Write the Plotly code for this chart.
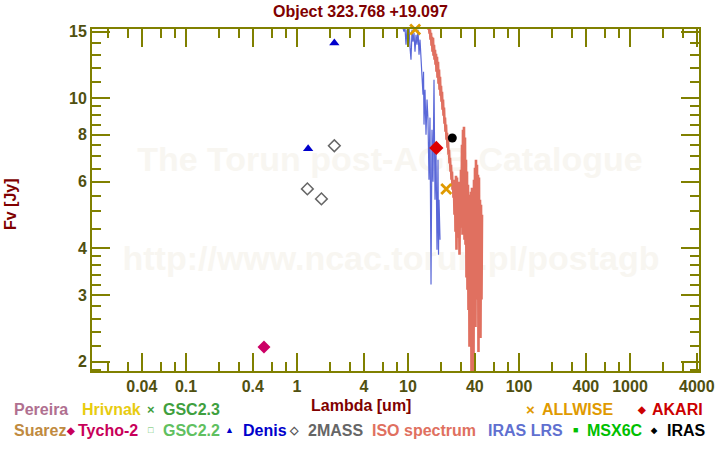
import plotly.graph_objects as go

# ---------------- data ----------------
tycho_wl = [0.504]
tycho_f = [2.185]
denis_wl = [1.26, 2.17]
denis_f = [7.34, 13.99]
mass_wl = [1.24, 1.66, 2.17]
mass_f = [5.74, 5.40, 7.47]
allwise_wl = [11.6, 22.1]
allwise_f = [15.2, 5.74]
akari_wl = [18.0]
akari_f = [7.37]
iras_wl = [25.06]
iras_f = [7.83]

lrs_wl = [8.13, 8.83, 9.20, 9.40, 9.59, 9.79, 10.0, 10.21, 10.43, 10.64,
          10.87, 11.09, 11.33, 11.56, 11.81, 12.05, 12.31, 12.57, 12.83, 13.10,
          13.37, 13.65, 13.80, 13.94, 14.23, 14.53, 14.84, 15.14, 15.46, 15.78,
          16.12, 16.45, 16.80, 17.15, 17.51, 17.88, 18.25, 18.64, 18.83, 19.03,
          19.43]
lrs_f = [16.13, 15.65, 14.99, 15.36, 13.85, 15.18, 14.45, 15.55, 13.60, 12.64,
         15.18, 14.10, 14.90, 13.27, 14.72, 13.85, 15.18, 13.03, 14.28, 12.48,
         12.03, 10.20, 11.74, 8.50, 10.52, 7.99, 9.90, 8.76, 6.07, 8.87,
         3.20, 8.24, 6.00, 11.18, 5.37, 7.29, 3.96, 6.86, 3.84, 5.37,
         4.21]

iso_wl = [12.5, 13.2, 13.9, 14.5,
          15.14, 15.30, 15.46, 15.62, 15.78, 15.94, 16.12, 16.29, 16.45, 16.62,
          16.80, 16.97, 17.15, 17.33, 17.51, 17.69, 17.88, 18.06, 18.25, 18.44,
          18.64, 18.83, 19.03, 19.23, 19.43, 19.63, 19.83, 20.04, 20.25, 20.46,
          20.67, 20.89, 21.10, 21.32, 21.54, 21.77, 22.00, 22.23, 22.46, 22.69,
          22.93, 23.17, 23.41, 23.65, 23.90, 24.15, 24.40, 24.65, 24.91, 25.17,
          25.43, 25.69, 25.96, 26.23, 26.51, 26.78, 27.06, 27.34, 27.63, 27.92,
          28.21, 28.50, 28.80, 29.10, 29.40, 29.71, 30.02, 30.33, 30.65, 30.97,
          31.29, 31.62, 31.94, 32.27, 32.61, 32.95, 33.29, 33.64, 33.99, 34.34,
          34.70, 35.06, 35.43, 35.80, 36.18, 36.56, 36.94, 37.32, 37.71, 38.10,
          38.50, 38.90, 39.31, 39.72, 40.13, 40.55, 40.97, 41.40, 41.83, 42.27,
          42.71, 43.15, 43.60, 44.05, 44.52, 44.98, 45.47, 45.94, 46.42]
iso_f = [19.0, 18.0, 17.4, 16.9,
         15.94, 15.18, 15.55, 14.81, 15.18, 14.28, 14.90, 13.76, 14.54, 13.27,
         14.45, 12.95, 13.85, 12.64, 13.43, 12.26, 13.11, 11.74, 12.87, 11.32,
         12.48, 10.91, 11.89, 10.52, 11.39, 10.14, 10.78, 9.78, 10.39, 9.31,
         9.90, 8.98, 9.43, 8.55, 8.87, 8.14, 8.50, 7.75, 8.09, 7.38,
         7.75, 7.07, 7.29, 6.70, 6.94, 6.38, 6.65, 6.07, 6.38, 5.71,
         6.07, 5.44, 5.78, 4.90, 6.07, 4.42, 6.22, 3.96, 6.15, 4.26,
         6.00, 4.34, 5.93, 3.84, 6.00, 4.53, 6.45, 4.61, 7.52, 4.34,
         8.24, 4.90, 8.39, 4.21, 7.85, 4.08, 6.86, 3.34, 6.38, 3.10,
         5.89, 2.74, 5.54, 2.19, 5.44, 2.74, 5.64, 1.75, 5.78, 2.43,
         5.71, 1.75, 6.07, 2.58, 6.53, 2.47, 6.86, 3.24, 6.65, 2.92,
         6.26, 2.12, 6.15, 2.74, 5.37, 2.31, 5.21, 2.92, 4.90]

x_major = [0.04, 0.1, 0.4, 1, 4, 10, 40, 100, 400, 1000, 4000]
x_labels = ["0.04", "0.1", "0.4", "1", "4", "10", "40", "100", "400", "1000", "4000"]
x_minor = [0.02, 0.03, 0.06, 0.08, 0.2, 0.3, 0.6, 0.8, 2, 3, 6, 8, 20, 30, 60, 80,
           200, 300, 600, 800, 2000, 3000]
y_major = [2, 3, 4, 6, 8, 10, 15]
y_labels = ["2", "3", "4", "6", "8", "10", "15"]
y_minor = [1.9, 2.2, 2.4, 2.6, 2.8, 3.2, 3.4, 3.6, 3.8, 4.5, 5, 5.5, 6.5, 7, 7.5,
           8.5, 9, 9.5, 11, 12, 13, 14]

# ---------------- style ----------------
FONT = "Liberation Sans, Arial, sans-serif"
OLIVE = "#808000"
TICKTXT = "#505010"
DARKRED = "#800000"
L, R, T, B = 92, 699, 29, 371
W, H = 720, 450
XR = [-1.8468, 3.6216]
YR = [0.2759, 1.1830]


def px(x):
    return (x - L) / (R - L)


def py(y):
    return (B - y) / (B - T)


fig = go.Figure()

# watermark (below data)
fig.add_trace(go.Scatter(
    x=[6.88, 7.03], y=[6.74, 3.68], mode="text",
    text=["The Torun post-AGB Catalogue", "http://www.ncac.torun.pl/postagb"],
    textfont=dict(family=FONT, size=34, color="#f8f6f1", weight="bold"),
    textposition="middle center", hoverinfo="skip", showlegend=False))

fig.add_trace(go.Scatter(x=lrs_wl, y=lrs_f, mode="lines",
                         line=dict(color="#5a68d8", width=1.2), showlegend=False))
fig.add_trace(go.Scatter(x=iso_wl, y=iso_f, mode="lines",
                         line=dict(color="#e07060", width=2.6), showlegend=False))

mk = dict(mode="markers", showlegend=False, cliponaxis=False)
fig.add_trace(go.Scatter(x=tycho_wl, y=tycho_f,
                         marker=dict(symbol="diamond", size=10, color="#cc0066"), **mk))
fig.add_trace(go.Scatter(x=denis_wl, y=denis_f,
                         marker=dict(symbol="triangle-up", size=9, color="#0000cc"), **mk))
fig.add_trace(go.Scatter(x=mass_wl, y=mass_f,
                         marker=dict(symbol="diamond-open", size=9, color="#666666",
                                     line=dict(width=1.5)), **mk))
fig.add_trace(go.Scatter(x=allwise_wl, y=allwise_f,
                         marker=dict(symbol="x-thin-open", size=10, color="#e09a00",
                                     line=dict(width=2.8, color="#e09a00")), **mk))
fig.add_trace(go.Scatter(x=akari_wl, y=akari_f,
                         marker=dict(symbol="diamond", size=11, color="#dd0000"), **mk))
fig.add_trace(go.Scatter(x=iras_wl, y=iras_f,
                         marker=dict(symbol="circle", size=9, color="#000000"), **mk))
# invisible trace to activate the overlay axes carrying the minor ticks
fig.add_trace(go.Scatter(x=tycho_wl, y=tycho_f, xaxis="x2", yaxis="y2",
                         mode="markers", marker=dict(opacity=0), hoverinfo="skip",
                         showlegend=False))

axis_common = dict(
    type="log", showgrid=False, zeroline=False, automargin=False,
    ticks="inside", tickwidth=1.5, tickcolor=OLIVE, mirror="ticks",
)

fig.update_layout(
    xaxis=dict(**axis_common, range=XR, tickmode="array", tickvals=x_major,
               ticktext=x_labels, ticklen=18, showline=True, linecolor=OLIVE,
               linewidth=2,
               tickfont=dict(family=FONT, size=16, color=TICKTXT, weight="bold")),
    yaxis=dict(**axis_common, range=YR, tickmode="array", tickvals=y_major,
               ticktext=y_labels, ticklen=18, showline=True, linecolor=OLIVE,
               linewidth=2,
               tickfont=dict(family=FONT, size=16, color=TICKTXT, weight="bold")),
    xaxis2=dict(**axis_common, range=XR, overlaying="x", anchor="y2", side="bottom",
                tickmode="array", tickvals=x_minor, ticklen=9,
                showticklabels=False, showline=False),
    yaxis2=dict(**axis_common, range=YR, overlaying="y", anchor="x2", side="left",
                tickmode="array", tickvals=y_minor, ticklen=9,
                showticklabels=False, showline=False),
)

ann = []


def text(x, y, s, color, size=16, anchor="left", bold=True, angle=0):
    ann.append(dict(x=px(x), y=py(y), xref="paper", yref="paper", text=s,
                    showarrow=False, xanchor=anchor, yanchor="middle",
                    textangle=angle,
                    font=dict(family=FONT, size=size, color=color,
                              weight="bold" if bold else "normal")))


text(360, 12, "Object 323.768 +19.097", DARKRED, size=16, anchor="center")
text(361, 405, "Lambda [um]", DARKRED, size=16, anchor="center")
text(10, 204, "Fv [Jy]", DARKRED, size=16, anchor="center", angle=-90)

# legend row 1
R1, R2 = 410, 430
text(12, R1, "Pereira", "#b07090")
text(80, R1, "Hrivnak", "#e8cc10")
text(151, R1, "×", "#3fa03f", size=13, anchor="center")
text(161, R1, "GSC2.3", "#3fa03f")
text(530, R1, "×", "#e09a00", size=15, anchor="center")
text(540, R1, "ALLWISE", "#e09a00")
text(641, R1, "◆", "#cc0000", size=10, anchor="center")
text(650, R1, "AKARI", "#cc0000")
# legend row 2
text(12, R2, "Suarez", "#c08a40")
text(70, R2, "◆", "#c8005a", size=10, anchor="center")
text(76, R2, "Tycho-2", "#c8005a")
text(151, R2, "□", "#60c060", size=9, anchor="center")
text(161, R2, "GSC2.2", "#60c060")
text(229, R2, "▲", "#0000cc", size=9, anchor="center")
text(241, R2, "Denis", "#0000cc")
text(294, R2, "◇", "#555555", size=11, anchor="center")
text(306, R2, "2MASS", "#666666")
text(370, R2, "ISO spectrum", "#e07060")
text(486, R2, "IRAS LRS", "#6070d0")
text(575, R2, "■", "#00c000", size=9, anchor="center")
text(585, R2, "MSX6C", "#00c000")
text(654, R2, "◆", "#000000", size=8, anchor="center")
text(665, R2, "IRAS", "#000000")

fig.update_layout(
    width=W, height=H, autosize=False,
    margin=dict(l=L, r=W - R, t=T, b=H - B, pad=0),
    paper_bgcolor="white", plot_bgcolor="white",
    showlegend=False, annotations=ann,
)

fig.write_html("out.html")
